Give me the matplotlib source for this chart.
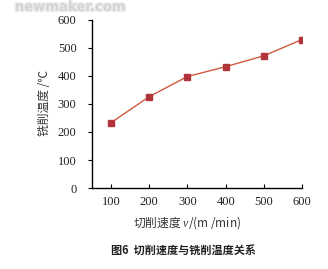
import matplotlib
matplotlib.use("Agg")
import matplotlib.pyplot as plt
import matplotlib.patheffects as pe

speed = [100, 200, 300, 400, 500, 600]
temp = [233, 326, 398, 433, 472, 530]
yticks = [0, 100, 200, 300, 400, 500, 600]

cjk = ['Noto Sans CJK SC', 'DejaVu Sans']
serif = ['Liberation Serif', 'DejaVu Serif']
plt.rcParams['font.family'] = serif
plt.rcParams['mathtext.fontset'] = 'custom'
plt.rcParams['mathtext.it'] = 'Liberation Serif:italic'
plt.rcParams['mathtext.rm'] = 'Liberation Serif'

fig = plt.figure(figsize=(3.28, 2.69), dpi=100)
fig.patch.set_facecolor('white')

# watermark
fig.text(0.045, 0.973, 'newmaker.com', fontsize=9.5, fontweight='bold', family='DejaVu Sans',
         color='#d4d4d4', ha='left', va='center', zorder=0,
         path_effects=[pe.withStroke(linewidth=2.0, foreground='#ececec')])

ax = fig.add_axes([0.280, 0.301, 0.641, 0.625])
ax.patch.set_alpha(0)
ax.plot(speed, temp, color='#cf5a3c', lw=1.0, marker='s', ms=4.5,
        mfc='#b0343a', mec='#b0343a', zorder=3)

ax.set_xlim(50, 600)
ax.set_ylim(0, 600)
ax.set_xticks(speed)
ax.set_yticks(yticks)
ax.set_xticklabels([str(v) for v in speed], family=serif, fontsize=9, color='#222222')
ax.set_yticklabels([str(v) for v in yticks], family=serif, fontsize=9, color='#222222')
for s in ['top', 'right']:
    ax.spines[s].set_visible(False)
for s in ['left', 'bottom']:
    ax.spines[s].set_linewidth(1.0)
    ax.spines[s].set_color('black')
ax.tick_params(axis='x', direction='in', length=3, width=0.8, pad=6)
ax.tick_params(axis='y', direction='out', length=3, width=0.8, pad=8)

fig.text(0.137, 0.617, '铣削温度 /℃', rotation=90, ha='center', va='center',
         fontsize=8.5, family=cjk, color='#333333')
fig.text(0.57, 0.172, '切削速度 $\\it{v}$/(m /min)', ha='center', va='center',
         fontsize=8.5, family=cjk, color='#333333')
fig.text(0.56, 0.067, '图6  切削速度与铣削温度关系', ha='center', va='center',
         fontsize=8, family=cjk, fontweight='bold', color='#222222')

fig.savefig('out.png', dpi=100, facecolor='white')
